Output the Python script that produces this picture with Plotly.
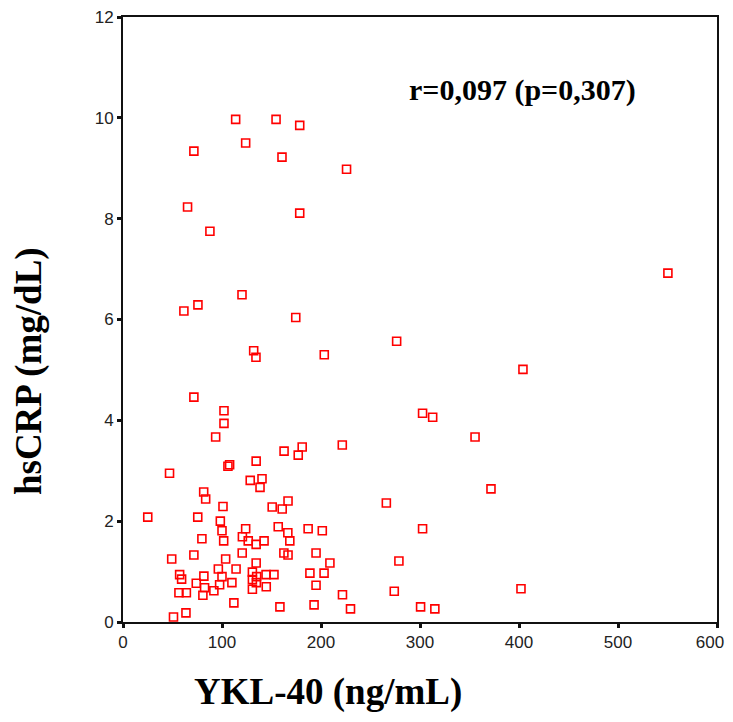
import plotly.graph_objects as go

# YKL-40 (ng/mL) values
ykl40 = [113.8, 154.6, 178.5, 71.6, 123.9, 160.6, 225.8, 65.2, 178.5, 87.8,
         550.4, 120.2, 75.7, 61.5, 174.5, 132.0, 134.3, 203.3, 276.4, 404.0,
         71.6, 102.0, 102.0, 93.6, 355.6, 302.6, 312.8, 221.5, 162.7, 181.0,
         177.0, 134.5, 106.0, 107.7, 47.0, 128.5, 140.4, 138.4, 371.7, 81.5,
         83.5, 101.0, 150.7, 160.8, 166.7, 266.0, 25.0, 75.5, 98.3, 100.0,
         101.7, 79.7, 123.9, 120.6, 126.5, 134.5, 142.5, 156.8, 166.5, 168.5,
         187.0, 201.3, 302.6, 49.2, 71.6, 103.7, 120.4, 162.5, 166.7, 195.0,
         209.0, 134.5, 278.7, 96.3, 114.2, 57.2, 59.2, 74.0, 81.7, 82.4,
         80.7, 100.0, 97.6, 91.8, 110.0, 56.5, 64.0, 112.0, 51.0, 63.6,
         130.7, 135.0, 134.7, 130.7, 130.7, 144.5, 152.5, 144.7, 188.8, 203.1,
         195.0, 221.7, 274.0, 402.0, 158.5, 193.0, 229.8, 300.6, 315.0]

# hsCRP (mg/dL) values
hscrp = [9.97, 9.97, 9.85, 9.34, 9.50, 9.22, 8.98, 8.23, 8.11, 7.75,
         6.92, 6.49, 6.29, 6.17, 6.04, 5.38, 5.25, 5.30, 5.57, 5.01,
         4.46, 4.19, 3.94, 3.67, 3.67, 4.14, 4.06, 3.51, 3.39, 3.47,
         3.31, 3.19, 3.09, 3.12, 2.95, 2.81, 2.84, 2.67, 2.64, 2.58,
         2.44, 2.29, 2.28, 2.24, 2.40, 2.36, 2.08, 2.08, 2.00, 1.81,
         1.61, 1.65, 1.85, 1.69, 1.61, 1.54, 1.61, 1.89, 1.77, 1.61,
         1.85, 1.81, 1.85, 1.25, 1.33, 1.25, 1.37, 1.37, 1.33, 1.37,
         1.17, 1.17, 1.21, 1.05, 1.05, 0.94, 0.85, 0.77, 0.91, 0.68,
         0.53, 0.90, 0.74, 0.62, 0.78, 0.58, 0.58, 0.38, 0.10, 0.18,
         0.99, 0.90, 0.78, 0.84, 0.65, 0.94, 0.94, 0.70, 0.97, 0.97,
         0.73, 0.54, 0.61, 0.66, 0.30, 0.34, 0.26, 0.30, 0.26]

x_ticks = [0, 100, 200, 300, 400, 500, 600]
x_ticktext = ["0", "100", "200", "300", "400", "500", "600\u00a0\u00a0\u00a0"]
y_ticks = [0, 2, 4, 6, 8, 10, 12]
y_ticktext = ["0", "2", "4", "6", "8", "10", "12"]

fig = go.Figure()
fig.add_trace(go.Scatter(
    x=ykl40, y=hscrp, mode="markers",
    marker=dict(symbol="square-open", size=8, color="#ff0000",
                line=dict(width=1.6, color="#ff0000")),
    showlegend=False, hoverinfo="x+y"))

axis_common = dict(
    showgrid=False, zeroline=False, showline=True, linecolor="#111",
    linewidth=2, mirror=True, ticks="outside", ticklen=4, tickwidth=3,
    tickcolor="#111", ticklabeloverflow="allow", automargin=False,
    tickfont=dict(family="Liberation Sans, Arial", size=17, color="#222"),
)

fig.update_xaxes(range=[0, 600], tickvals=x_ticks, ticktext=x_ticktext, **axis_common)
fig.update_yaxes(range=[0, 12], tickvals=y_ticks, ticktext=y_ticktext, **axis_common)

title_font = dict(family="Liberation Serif, Times New Roman", size=37, color="#000")

fig.update_layout(
    width=717, height=706,
    margin=dict(l=115, r=8, t=9, b=92),
    paper_bgcolor="white", plot_bgcolor="white",
    annotations=[
        dict(text="<b>YKL-40 (ng/mL)</b>", xref="paper", yref="paper",
             x=0.345, y=-0.116, showarrow=False, font=title_font,
             xanchor="center", yanchor="middle"),
        dict(text="<b>hsCRP (mg/dL)</b>", xref="paper", yref="paper",
             x=-0.158, y=0.415, showarrow=False, font=title_font,
             textangle=-90, xanchor="center", yanchor="middle"),
        dict(text="<b>r=0,097 (p=0,307)</b>", xref="paper", yref="paper",
             x=0.672, y=0.879, showarrow=False,
             font=dict(family="Liberation Serif, Times New Roman", size=30, color="#000"),
             xanchor="center", yanchor="middle"),
    ],
)

fig.write_html("out.html")
